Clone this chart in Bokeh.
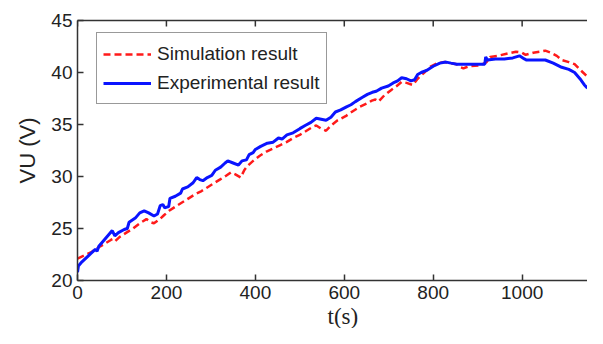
from bokeh.plotting import figure
from bokeh.models import LinearAxis, Legend, LegendItem, Title, Range1d, FixedTicker
from bokeh.embed import file_html
from bokeh.resources import INLINE
import math

# ---- data ----
exp_t = [0, 2, 10, 25, 40, 44, 48, 60, 72, 78, 84, 92, 105, 112, 116, 130, 140, 150, 160, 172,
         180, 186, 192, 196, 205, 208, 220, 232, 236, 248, 260, 268, 275, 282, 292, 302, 310, 322,
         332, 338, 350, 362, 370, 380, 386, 395, 400, 412, 427, 440, 452, 460, 471, 485, 500, 512,
         525, 537, 548, 559, 570, 580, 592, 605, 615, 625, 640, 652, 663, 672, 684, 699, 710, 720,
         729, 740, 750, 758, 765, 773, 785, 800, 815, 829, 840, 853, 870, 900, 916, 918, 922, 940,
         960, 979, 994, 1005, 1010, 1030, 1052, 1070, 1089, 1105, 1118, 1130, 1140, 1147]
exp_v = [20.8, 21.4, 21.8, 22.4, 23.0, 22.8, 23.3, 23.9, 24.5, 24.8, 24.3, 24.6, 24.9, 25.0, 25.6,
         26.0, 26.5, 26.7, 26.5, 26.2, 26.4, 27.2, 27.3, 27.0, 27.1, 27.9, 28.1, 28.4, 28.8, 29.0,
         29.4, 29.9, 29.7, 29.6, 29.9, 30.1, 30.6, 30.9, 31.3, 31.5, 31.3, 31.1, 31.5, 31.6, 32.1,
         32.3, 32.6, 32.9, 33.2, 33.3, 33.7, 33.6, 34.0, 34.2, 34.6, 34.9, 35.2, 35.6, 35.5, 35.4,
         35.7, 36.2, 36.4, 36.7, 36.9, 37.2, 37.6, 37.9, 38.1, 38.2, 38.5, 38.7, 39.0, 39.2, 39.5,
         39.4, 39.2, 39.3, 39.8, 40.0, 40.2, 40.6, 40.9, 41.0, 40.9, 40.8, 40.8, 40.8, 40.8, 41.5,
         41.2, 41.3, 41.3, 41.4, 41.6, 41.3, 41.2, 41.2, 41.2, 40.9, 40.5, 40.3, 40.0, 39.4, 38.8,
         38.5]

sim_t = [0, 15, 30, 44, 60, 75, 80, 85, 95, 110, 125, 140, 155, 165, 172, 185, 195, 206, 220, 235,
         250, 265, 279, 290, 305, 320, 335, 345, 355, 367, 375, 382, 395, 410, 425, 440, 455, 470,
         485, 500, 515, 530, 537, 548, 559, 570, 585, 603, 620, 635, 650, 662, 670, 677, 690, 705,
         718, 729, 740, 754, 765, 780, 795, 810, 825, 840, 853, 862, 868, 880, 906, 920, 928, 945,
         965, 986, 1000, 1008, 1025, 1040, 1052, 1065, 1078, 1089, 1105, 1118, 1132, 1147]
sim_v = [22.1, 22.4, 22.7, 23.1, 23.5, 23.9, 24.0, 23.8, 24.2, 24.6, 25.0, 25.5, 25.9, 25.6, 25.5,
         25.9, 26.3, 26.7, 27.1, 27.5, 27.9, 28.3, 28.6, 28.9, 29.3, 29.7, 30.1, 30.4, 30.2, 29.9,
         30.6, 31.0, 31.5, 32.0, 32.4, 32.7, 33.0, 33.3, 33.7, 34.0, 34.4, 34.8, 34.9, 34.6, 34.4,
         34.9, 35.4, 35.8, 36.3, 36.7, 37.0, 37.3, 37.4, 37.2, 37.8, 38.3, 38.7, 39.1, 39.0, 38.8,
         39.4, 40.0, 40.6, 40.9, 41.0, 40.9, 40.8, 40.5, 40.4, 40.6, 40.7, 41.0, 41.5, 41.6, 41.8,
         42.0, 41.9, 41.7, 41.9, 42.0, 42.1, 41.9, 41.6, 41.2, 41.0, 40.8, 40.2, 39.6]

x_ticks = [0, 200, 400, 600, 800, 1000]
y_ticks = [20, 25, 30, 35, 40, 45]
series_names = ["Simulation result", "Experimental result"]
x_label = "t(s)"
y_label = "VU (V)"

TXT = "#222222"
AX = "#333333"
FONT = "Liberation Sans"

p = figure(width=587, height=328, output_backend="svg", toolbar_location=None,
           x_range=Range1d(0, 1147), y_range=Range1d(20, 45),
           min_border_left=77, min_border_right=0, min_border_top=20, min_border_bottom=43)
p.outline_line_color = None
p.grid.visible = False
p.background_fill_color = "white"
p.border_fill_color = "white"

for ax in (p.xaxis[0], p.yaxis[0]):
    ax.major_label_text_font = FONT
    ax.major_label_text_font_size = "19px"
    ax.major_label_text_color = TXT
    ax.axis_line_color = AX
    ax.axis_line_width = 1.5
    ax.major_tick_line_color = AX
    ax.major_tick_line_width = 1.5
    ax.major_tick_in = 6
    ax.major_tick_out = 0
    ax.minor_tick_line_color = None
    ax.major_label_standoff = 5

p.xaxis[0].ticker = FixedTicker(ticks=x_ticks)
p.yaxis[0].ticker = FixedTicker(ticks=y_ticks)

p.yaxis[0].axis_label = y_label
p.yaxis[0].axis_label_text_font = FONT
p.yaxis[0].axis_label_text_font_size = "22px"
p.yaxis[0].axis_label_text_font_style = "normal"
p.yaxis[0].axis_label_text_color = TXT
p.yaxis[0].axis_label_standoff = 8

# top frame line (no labels), with inward ticks drawn as short rays
top = LinearAxis(ticker=FixedTicker(ticks=[]), axis_line_color=AX, axis_line_width=1.5,
                 major_tick_line_color=None, minor_tick_line_color=None)
p.add_layout(top, "above")
p.ray(x=x_ticks, y=[45] * len(x_ticks), length=6, length_units="screen",
      angle=-math.pi / 2, line_color=AX, line_width=1.5)

r_sim = p.line(sim_t, sim_v, line_color="#ff1a1a", line_width=2.5, line_dash="7 4")
r_exp = p.line(exp_t, exp_v, line_color="#0a14ff", line_width=3)

legend = Legend(items=[LegendItem(label=series_names[0], renderers=[r_sim]),
                       LegendItem(label=series_names[1], renderers=[r_exp])],
                location=(19, 176))
legend.label_text_font = FONT
legend.label_text_font_size = "19px"
legend.label_text_color = TXT
legend.glyph_width = 48
legend.glyph_height = 20
legend.label_height = 29
legend.spacing = 0
legend.padding = 6
legend.margin = 0
legend.label_standoff = 6
legend.border_line_color = AX
legend.border_line_width = 1.2
legend.background_fill_alpha = 1
p.add_layout(legend, "center")

xt = Title(text=x_label, align="left", offset=250, text_font="Liberation Serif",
           text_font_size="23px", text_font_style="normal", text_color=TXT, standoff=0)
p.add_layout(xt, "below")

open("out.html", "w").write(file_html(p, INLINE))
